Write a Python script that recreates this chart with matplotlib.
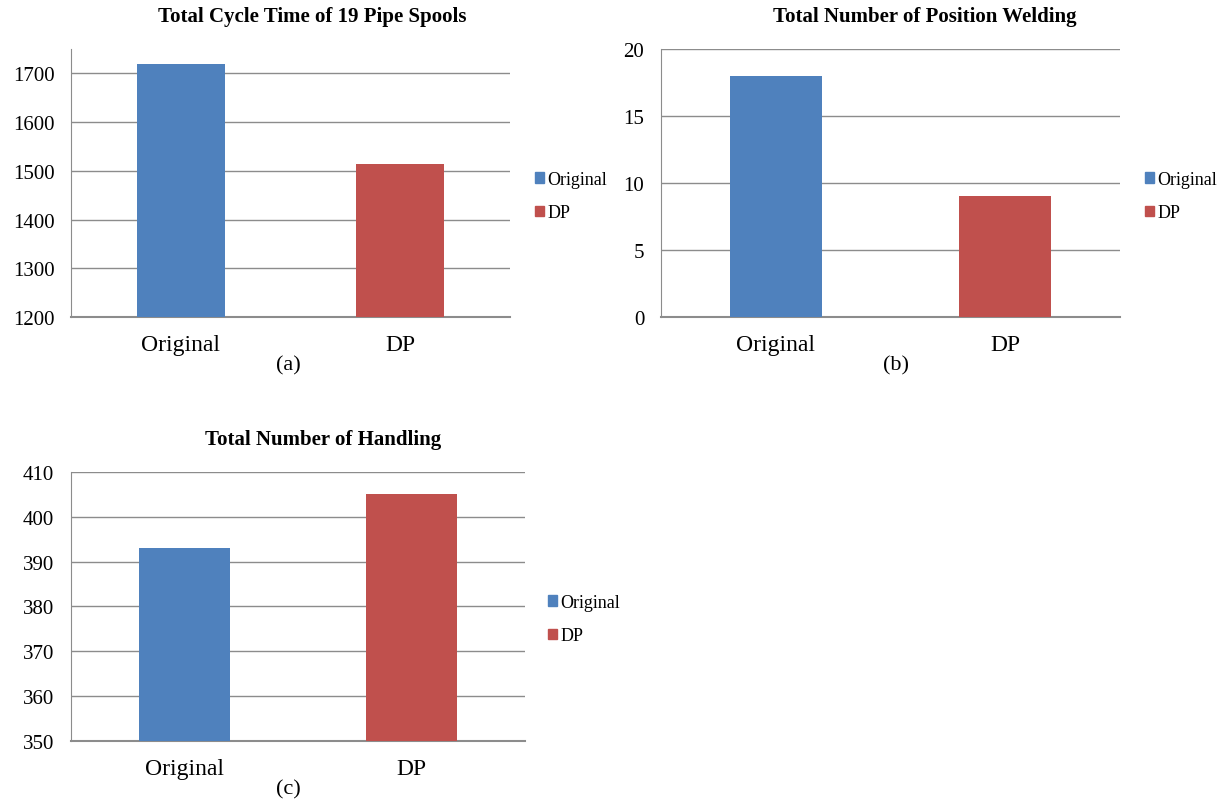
import matplotlib.pyplot as plt
from matplotlib.patches import Patch

plt.rcParams["font.family"] = ["Liberation Serif", "DejaVu Serif"]

categories = ["Original", "DP"]
colors = ["#4F81BD", "#C0504D"]

titles = [
    "Total Cycle Time of 19 Pipe Spools",
    "Total Number of Position Welding",
    "Total Number of Handling",
]
captions = ["(a)", "(b)", "(c)"]

cycle_time = [1720, 1514]
position_welding = [18, 9]
handling = [393, 405]

values = [cycle_time, position_welding, handling]
ylims = [(1200, 1750), (0, 20), (350, 410)]
yticks = [range(1200, 1701, 100), range(0, 21, 5), range(350, 411, 10)]

W, H = 1225, 803
fig = plt.figure(figsize=(W / 100, H / 100), dpi=100)


def px_axes(x0, y0, x1, y1):
    return fig.add_axes([x0 / W, 1 - y1 / H, (x1 - x0) / W, (y1 - y0) / H])


# axes boxes in pixels (left, top, right, bottom)
boxes = [(71, 50, 510, 318), (661, 50, 1120, 318), (71, 473, 525, 742)]
title_pos = [(312, 17), (925, 17), (323, 440)]
caption_pos = [(288, 366), (896, 366), (288, 790)]
legend_pos = [(535, 197), (1145, 197), (548, 620)]

for i in range(3):
    ax = px_axes(*boxes[i])
    ax.bar([0, 1], values[i], width=0.4, color=colors, zorder=3)
    ax.set_xlim(-0.5, 1.5)
    ax.set_ylim(*ylims[i])
    ax.set_yticks(list(yticks[i]))
    ax.set_xticks([0, 1])
    ax.set_xticklabels(categories, fontsize=17)
    ax.tick_params(axis="y", labelsize=15, length=0, pad=12)
    ax.tick_params(axis="x", length=0, pad=12)
    ax.grid(axis="y", color="#8C8C8C", linewidth=1, zorder=0)
    for s in ["top", "right"]:
        ax.spines[s].set_visible(False)
    ax.spines["left"].set_color("#8C8C8C")
    ax.spines["bottom"].set_color("#8C8C8C")
    ax.spines["bottom"].set_linewidth(1.5)

    fig.text(title_pos[i][0] / W, 1 - title_pos[i][1] / H, titles[i],
             ha="center", va="center", fontsize=15, fontweight="bold")
    fig.text(caption_pos[i][0] / W, 1 - caption_pos[i][1] / H, captions[i],
             ha="center", va="center", fontsize=16)

    handles = [Patch(color=c, label=l) for c, l in zip(colors, categories)]
    fig.legend(handles=handles, loc="center left",
               bbox_to_anchor=(legend_pos[i][0] / W, 1 - legend_pos[i][1] / H),
               frameon=False, fontsize=13, handlelength=0.5, handleheight=0.5,
               handletextpad=0.2, labelspacing=0.9, borderpad=0, borderaxespad=0)

fig.savefig("out.png", dpi=100)
